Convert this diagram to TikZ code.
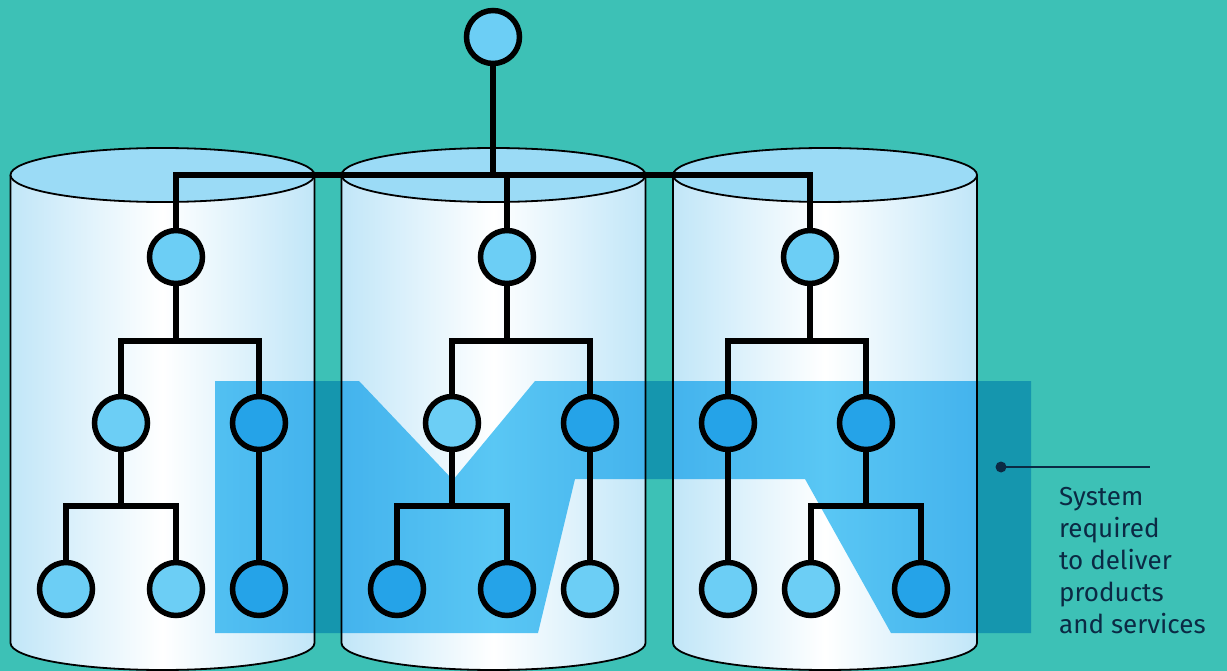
\documentclass[tikz,border=0pt]{standalone}
\usepackage{fontspec}
\setmainfont{Fira Sans}
\definecolor{bg}{HTML}{3DC1B6}
\definecolor{cylTop}{HTML}{9BDBF6}
\definecolor{cylEdge}{HTML}{C1E6F8}
\definecolor{nodeLight}{HTML}{6CCEF5}
\definecolor{nodeDark}{HTML}{25A3E8}
\definecolor{overlayc}{HTML}{5AC7F4}
\definecolor{navy}{HTML}{0B2A44}
\begin{document}
\begin{tikzpicture}[x=1pt,y=-1pt,
  treenode/.style={circle, draw=black, line width=5.5pt, minimum size=53pt, inner sep=0pt},
  lt/.style={treenode, fill=nodeLight},
  dk/.style={treenode, fill=nodeDark},
  link/.style={draw=black, line width=5.5pt, line join=miter},
  cylline/.style={draw=black, line width=1.8pt},
  lbl/.style={font=\fontsize{26}{32}\selectfont, text=navy, anchor=base west, inner sep=0pt}
]
\fill[bg] (0,0) rectangle (1227,671);
\useasboundingbox (0,0) rectangle (1227,671);
% cylinders
\foreach \cx in {162.5,493.5,825}{
  \path[left color=cylEdge, right color=cylEdge, middle color=white]
    (\cx-152,175) -- (\cx-152,643) arc[start angle=180,end angle=0,x radius=152,y radius=27] -- (\cx+152,175) -- cycle;
  \draw[cylline] (\cx-152,175) -- (\cx-152,643) arc[start angle=180,end angle=0,x radius=152,y radius=27] -- (\cx+152,175);
  \draw[cylline, fill=cylTop] (\cx,175) ellipse[x radius=152, y radius=27];
}
% highlighted system band
\fill[overlayc, blend mode=multiply] (215,381) -- (359,381) -- (453,480) -- (535,381) -- (1031,381)
  -- (1031,633) -- (891,633) -- (805,479) -- (575,479) -- (538,633) -- (215,633) -- cycle;
% nodes
\node[lt] (root) at (493,37) {};
\node[lt] (a) at (176,257) {};
\node[lt] (b) at (507,257) {};
\node[lt] (c) at (810,257) {};
\node[lt] (a1) at (121,423) {};
\node[dk] (a2) at (259,423) {};
\node[lt] (b1) at (452,423) {};
\node[dk] (b2) at (590,423) {};
\node[dk] (c1) at (728,423) {};
\node[dk] (c2) at (866,423) {};
\node[lt] (a11) at (66,589) {};
\node[lt] (a12) at (176,589) {};
\node[dk] (a21) at (259,589) {};
\node[dk] (b11) at (397,589) {};
\node[dk] (b12) at (507,589) {};
\node[lt] (b21) at (590,589) {};
\node[lt] (c11) at (728,589) {};
\node[lt] (c21) at (811,589) {};
\node[dk] (c22) at (921,589) {};
% junctions
\coordinate (bus) at (493,175);
\coordinate (ab) at (176,341);
\coordinate (bb) at (507,341);
\coordinate (cb) at (810,341);
\coordinate (a1b) at (121,506);
\coordinate (b1b) at (452,506);
\coordinate (c2b) at (866,506);
% connectors
\draw[link] (root) -- (bus);
\draw[link] (a) |- (bus) -| (c);
\draw[link] (b) -- (b |- bus);
\draw[link] (a) -- (ab);
\draw[link] (a1) |- (ab) -| (a2);
\draw[link] (b) -- (bb);
\draw[link] (b1) |- (bb) -| (b2);
\draw[link] (c) -- (cb);
\draw[link] (c1) |- (cb) -| (c2);
\draw[link] (a1) -- (a1b);
\draw[link] (a11) |- (a1b) -| (a12);
\draw[link] (a2) -- (a21);
\draw[link] (b1) -- (b1b);
\draw[link] (b11) |- (b1b) -| (b12);
\draw[link] (b2) -- (b21);
\draw[link] (c1) -- (c11);
\draw[link] (c2) -- (c2b);
\draw[link] (c21) |- (c2b) -| (c22);
% label
\node[circle, fill=navy, minimum size=11pt, inner sep=0pt] (dot) at (1001,467) {};
\coordinate (lend) at (1150,467);
\draw[navy, line width=2pt] (dot.center) -- (lend);
\node[lbl] (t1) at (1059,505) {System};
\node[lbl] (t2) at (1059,537) {required};
\node[lbl] (t3) at (1059,569) {to deliver};
\node[lbl] (t4) at (1059,601) {products};
\node[lbl] (t5) at (1059,633) {and services};
\end{tikzpicture}
\end{document}
